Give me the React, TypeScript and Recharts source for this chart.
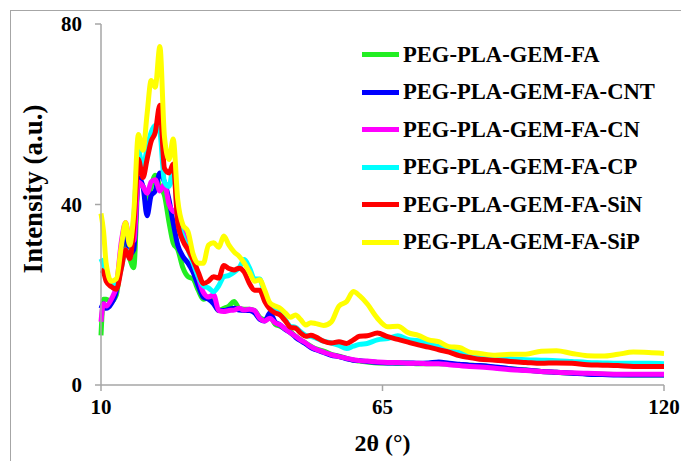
import React from 'react';
import { LineChart, Line, XAxis, YAxis, Legend, Label } from 'recharts';

// 2θ positions (degrees)
const angles = [
  10, 10.5, 11, 12, 13, 14, 14.8, 15.6, 16.4, 17.3, 18.2, 19, 19.8, 20.6, 21.5, 22.4, 23.3, 24.1,
  25, 26, 27, 28, 29, 30, 31, 32, 33, 34, 35, 36, 37, 38, 39, 40, 41, 42, 43, 44, 45, 46, 47, 48,
  49, 50, 51, 52, 53.5, 55, 56.5, 58, 59.3, 60.5, 62, 64, 66, 68, 70, 72, 74, 76, 78, 80, 82, 84,
  87, 90, 93, 96, 99, 102, 105, 108, 111, 114, 117, 120,
];

const fa = [
  11, 19, 19, 18.5, 20, 28, 31, 28, 26, 45, 44, 41, 44, 46.5, 44, 42, 36, 31.5,
  30, 26, 24, 23.5, 21, 19, 19.5, 18.5, 16.5, 17, 17.5, 18.5, 17, 16.8, 16.8, 16.5, 15, 14.5, 15.2, 13.5, 13, 12.4, 11.8, 10.8,
  10, 9.3, 8.6, 8, 7.5, 6.8, 6.4, 5.9, 5.5, 5.3, 5.1, 4.9, 4.9, 4.8, 4.8, 4.7, 4.7, 4.7, 4.6, 4.5, 4.4, 4.3,
  3.9, 3.6, 3.3, 3, 2.8, 2.6, 2.5, 2.4, 2.3, 2.2, 2.2, 2.2,
];

const cnt = [
  17, 18, 17, 18, 21, 30, 34, 29, 30, 46, 44, 37.5, 42, 43, 47, 45, 41, 36,
  31, 28.5, 27, 25, 22, 19.5, 19, 18, 16.5, 16.5, 16.8, 17, 16.6, 16.5, 16.5, 16, 14.6, 14.2, 16, 14, 13.3, 12.3, 11.6, 10.6,
  9.8, 9.1, 8.3, 7.8, 7.2, 6.6, 6.3, 5.8, 5.5, 5.4, 5.2, 5, 4.9, 4.9, 4.9, 4.8, 4.9, 5.1, 4.8, 4.6, 4.4, 4.3,
  4, 3.6, 3.3, 3, 2.8, 2.6, 2.4, 2.3, 2.2, 2.2, 2.2, 2.2,
];

const cn = [
  14, 18, 17.5, 19, 22, 32, 36, 32, 32, 45, 44, 42.5, 45, 45.5, 43, 44.5, 40, 38.5,
  38, 34, 31, 28.5, 24, 20.5, 19.5, 20, 16.5, 16.3, 16.5, 16.6, 17, 16.6, 16.8, 16.5, 14.8, 14.2, 14.8, 13.8, 13.3, 12.4, 11.6, 10.8,
  10, 9.3, 8.5, 7.9, 7.3, 6.7, 6.3, 5.9, 5.6, 5.4, 5.3, 5.1, 5, 5, 4.8, 4.8, 4.7, 4.7, 4.5, 4.3, 4.1, 4,
  3.7, 3.4, 3.2, 3, 2.8, 2.7, 2.6, 2.5, 2.4, 2.4, 2.4, 2.4,
];

const cp = [
  28, 26.5, 24, 22.5, 22, 26, 30, 28.5, 37, 52, 48, 52.5, 56, 57.5, 56, 45, 44, 48,
  37, 33, 30, 27, 24, 22, 21.5, 20.7, 22, 24, 24.3, 25, 26, 27.8, 26, 23.5, 23.5, 20, 18, 17, 16.6, 14.5, 13, 12.8,
  11.8, 11, 10.8, 10.4, 9.7, 9.3, 8.8, 8.1, 8.6, 9, 9.2, 10, 10.3, 10.9, 10.1, 9.8, 9.2, 8.5, 7.9, 7.2, 6.7, 6.3,
  6, 5.8, 5.6, 5.5, 5.4, 5.2, 5, 4.9, 4.8, 4.8, 4.8, 4.7,
];

const sin = [
  25.5, 25, 23, 21.8, 21.2, 26, 30, 28, 35, 50, 46, 50, 54, 56, 62, 48, 47, 49,
  36, 32, 30, 27.7, 25, 22.5, 23, 24, 23.7, 26.5, 25.8, 25.5, 25.9, 25, 22.5, 21, 21, 18.5, 16.8, 16, 15.5, 14.2, 12.8, 12.6,
  11.5, 10.8, 11, 10.6, 9.7, 9.3, 9.6, 9.2, 10, 10.8, 10.9, 11.5, 10.7, 10.1, 9.5, 8.9, 8.4, 7.8, 7.3, 6.5, 6.1, 5.7,
  5.5, 5.2, 5, 4.8, 4.9, 4.8, 4.5, 4.4, 4.3, 4.1, 4.1, 4.1,
];

const sip = [
  38, 34, 27, 23, 23.5, 31, 36, 31, 38, 55.5, 52, 60, 67.5, 66, 75, 55, 50, 54.5,
  41, 35.5, 34, 29, 27, 27, 31, 31.5, 30.5, 33, 31, 29.5, 28.5, 27, 25, 23, 23.3, 21, 18.2, 17.5, 17, 16, 15, 15.5,
  14.5, 13.3, 13.8, 13.6, 13.2, 14, 17.5, 18.5, 20.7, 19.8, 18, 14.8, 12.9, 13, 11.6, 11, 10, 9.6, 8.5, 8.3, 7.3, 7,
  6.6, 6.8, 6.8, 7.5, 7.6, 7, 6.5, 6.4, 6.8, 7.3, 7.2, 7,
];

const xTicks = [10, 65, 120];
const yTicks = [0, 40, 80];

const series = [
  { key: 'fa', name: 'PEG-PLA-GEM-FA', color: '#22ee22' },
  { key: 'cnt', name: 'PEG-PLA-GEM-FA-CNT', color: '#0000ff' },
  { key: 'cn', name: 'PEG-PLA-GEM-FA-CN', color: '#ff00ff' },
  { key: 'cp', name: 'PEG-PLA-GEM-FA-CP', color: '#00ffff' },
  { key: 'sin', name: 'PEG-PLA-GEM-FA-SiN', color: '#ff0000' },
  { key: 'sip', name: 'PEG-PLA-GEM-FA-SiP', color: '#ffff00' },
];

const data = angles.map((x, i) => ({
  x,
  fa: fa[i],
  cnt: cnt[i],
  cn: cn[i],
  cp: cp[i],
  sin: sin[i],
  sip: sip[i],
}));

const font = 'Liberation Serif, Times New Roman, Tinos, DejaVu Serif, serif';
const axisColor = '#a6a6a6';

// keep the legend in series order
const renderLegend = () => (
  <div style={{ fontFamily: font, fontWeight: 'bold', fontSize: 22.6, color: '#000' }}>
    {series.map((s) => (
      <div key={s.key} style={{ display: 'flex', alignItems: 'center', height: 37.5 }}>
        <span style={{ display: 'inline-block', width: 37, height: 5, background: s.color, marginRight: 4 }} />
        <span style={{ whiteSpace: 'nowrap' }}>{s.name}</span>
      </div>
    ))}
  </div>
);

export default function App() {
  return (
    <div style={{ position: 'absolute', left: 0, top: 0, width: 681, height: 461, overflow: 'hidden', background: '#fff', fontFamily: font }}>
      <div
        style={{
          position: 'absolute',
          left: 10,
          top: 10,
          width: 800,
          height: 600,
          borderLeft: `1.5px solid ${axisColor}`,
          borderTop: `1.5px solid ${axisColor}`,
        }}
      />
      <LineChart width={681} height={461} data={data} margin={{ top: 24, right: 17, bottom: 0, left: 0 }}>
        <XAxis
          dataKey="x"
          type="number"
          domain={[10, 120]}
          ticks={xTicks}
          height={76}
          stroke={axisColor}
          strokeWidth={1.5}
          tickSize={6}
          tickMargin={8}
          tick={{ fill: '#000', fontSize: 21, fontWeight: 'bold', fontFamily: font }}
        >
          <Label
            value="2θ (°)"
            position="insideBottom"
            offset={10}
            style={{ fill: '#000', fontSize: 24, fontWeight: 'bold', fontFamily: font }}
          />
        </XAxis>
        <YAxis
          type="number"
          domain={[0, 80]}
          ticks={yTicks}
          width={101}
          stroke={axisColor}
          strokeWidth={1.5}
          tickSize={6}
          tickMargin={13}
          tick={{ fill: '#000', fontSize: 21, fontWeight: 'bold', fontFamily: font }}
        >
          <Label
            content={() => (
              <text
                x={33}
                y={189}
                transform="rotate(-90 33 189)"
                textAnchor="middle"
                dominantBaseline="central"
                style={{ fill: '#000', fontSize: 27, fontWeight: 'bold', fontFamily: font }}
              >
                Intensity (a.u.)
              </text>
            )}
          />
        </YAxis>
        <Legend
          content={renderLegend}
          layout="vertical"
          align="center"
          verticalAlign="middle"
          wrapperStyle={{ left: 362, top: 36, width: 310 }}
        />
        {series.map((s) => (
          <Line
            key={s.key}
            type="monotone"
            dataKey={s.key}
            name={s.name}
            stroke={s.color}
            strokeWidth={5}
            dot={false}
            isAnimationActive={false}
          />
        ))}
      </LineChart>
    </div>
  );
}
